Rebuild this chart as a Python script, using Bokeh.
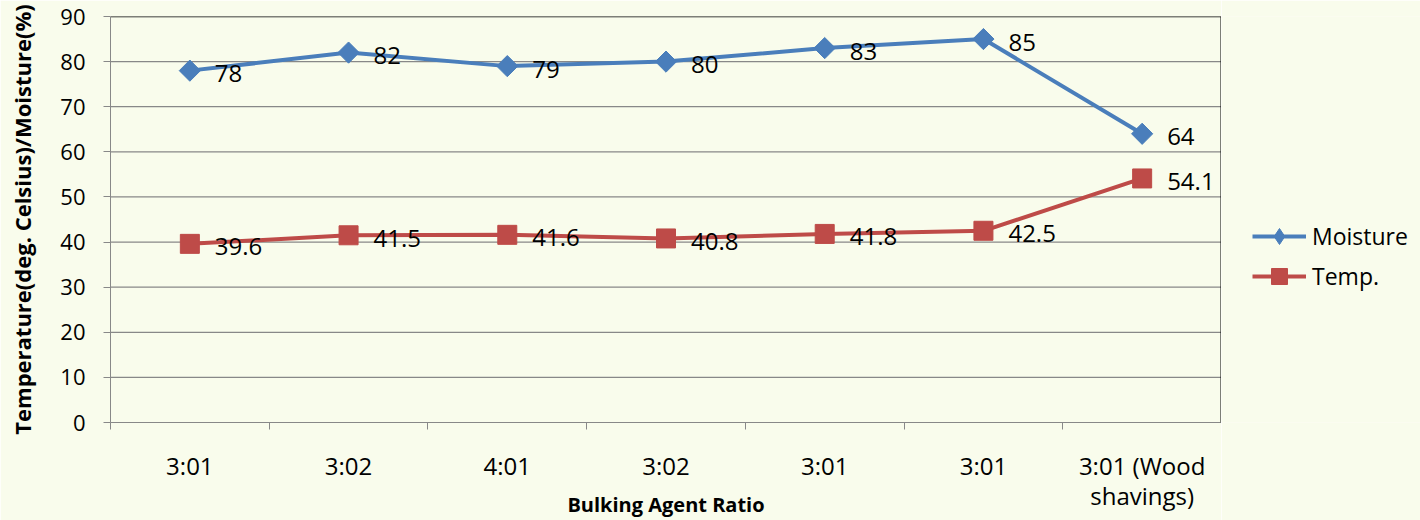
import math
from bokeh.plotting import figure
from bokeh.layouts import row
from bokeh.models import (ColumnDataSource, FixedTicker, Legend, LegendItem,
                          Range1d, Span)
from bokeh.core.properties import value
from bokeh.embed import file_html
from bokeh.resources import INLINE

# Data
categories = ["3:01", "3:02", "4:01", "3:02", "3:01", "3:01", "3:01 (Wood\nshavings)"]
moisture = [78, 82, 79, 80, 83, 85, 64]
temperature = [39.6, 41.5, 41.6, 40.8, 41.8, 42.5, 54.1]
y_ticks = [0, 10, 20, 30, 40, 50, 60, 70, 80, 90]

FONT = "Open Sans"
BG = "#F9FCEC"
BLUE = "#4A7EBB"
RED = "#BE4B48"
GRID = "#888888"

n = len(categories)
xs = [i + 0.5 for i in range(n)]

src = ColumnDataSource(dict(
    x=xs,
    moisture=moisture,
    temperature=temperature,
    m_lbl=[f"{v:g}" for v in moisture],
    t_lbl=[f"{v:g}" for v in temperature],
))

# ---- main chart -------------------------------------------------------------
p = figure(width=1221, height=520, output_backend="svg", toolbar_location=None,
           x_range=Range1d(0, n), y_range=Range1d(0, 90),
           min_border_left=110, min_border_right=0,
           min_border_top=16, min_border_bottom=98,
           background_fill_color=BG, border_fill_color=BG)
p.outline_line_color = None

# y axis
p.yaxis.ticker = FixedTicker(ticks=y_ticks)
p.yaxis.axis_line_color = GRID
p.yaxis.major_tick_line_color = GRID
p.yaxis.major_tick_out = 7
p.yaxis.major_tick_in = 0
p.yaxis.minor_tick_line_color = None
p.yaxis.major_label_text_font = FONT
p.yaxis.major_label_text_font_size = "22px"
p.yaxis.major_label_text_line_height = 1.0
p.yaxis.major_label_text_color = "#000000"
p.yaxis.major_label_standoff = 18
p.yaxis.axis_label = "Temperature(deg. Celsius)/Moisture(%)"
p.yaxis.axis_label_text_font = FONT
p.yaxis.axis_label_text_font_size = "22px"
p.yaxis.axis_label_text_font_style = "bold"
p.yaxis.axis_label_text_color = "#000000"
p.yaxis.axis_label_standoff = 20

# x axis: labels centred under each group, tick marks at group boundaries
p.xaxis.ticker = FixedTicker(ticks=xs, minor_ticks=list(range(n + 1)))
p.xaxis.major_label_overrides = {x: c for x, c in zip(xs, categories)}
p.xaxis.axis_line_color = GRID
p.xaxis.major_tick_line_color = None
p.xaxis.minor_tick_line_color = GRID
p.xaxis.minor_tick_out = 7
p.xaxis.minor_tick_in = 0
p.xaxis.major_tick_out = 7
p.xaxis.major_label_text_font = FONT
p.xaxis.major_label_text_font_size = "24px"
p.xaxis.major_label_text_line_height = 0.92
p.xaxis.major_label_text_color = "#000000"
p.xaxis.major_label_standoff = 19
p.xaxis.axis_label = "Bulking Agent Ratio"
p.xaxis.axis_label_text_font = FONT
p.xaxis.axis_label_text_font_size = "20px"
p.xaxis.axis_label_text_font_style = "bold"
p.xaxis.axis_label_text_color = "#000000"
p.xaxis.axis_label_standoff = -24

# horizontal grid lines; the top one doubles as the black border of the plot area
p.xgrid.grid_line_color = None
p.ygrid.grid_line_color = None
grid_src = ColumnDataSource(dict(
    x0=[0] * len(y_ticks), x1=[n] * len(y_ticks), y=y_ticks,
    color=[GRID] * (len(y_ticks) - 1) + ["#000000"],
    width=[1.2] * (len(y_ticks) - 1) + [1.5],
))
p.segment(x0="x0", y0="y", x1="x1", y1="y", source=grid_src,
          line_color="color", line_width="width")
p.add_layout(Span(location=n, dimension="height", line_color="#000000", line_width=2))

# series
m_line = p.line("x", "moisture", source=src, line_color=BLUE, line_width=4)
m_pts = p.scatter("x", "moisture", source=src, marker="square", angle=math.pi / 4,
                  size=15, fill_color=BLUE, line_color=BLUE)
t_line = p.line("x", "temperature", source=src, line_color=RED, line_width=4)
t_pts = p.scatter("x", "temperature", source=src, marker="square", size=19,
                  fill_color=RED, line_color=RED)

# value labels
for col, ycol in (("m_lbl", "moisture"), ("t_lbl", "temperature")):
    p.text("x", ycol, text=col, source=src, x_offset=25, y_offset=3,
           text_baseline="middle", text_align="left",
           text_font=value(FONT), text_font_size="24px", text_color="#000000")

# ---- legend panel -------------------------------------------------------------
leg = figure(width=199, height=520, output_backend="svg", toolbar_location=None,
             x_range=Range1d(0, 1), y_range=Range1d(0, 1),
             x_axis_location=None, y_axis_location=None,
             min_border=0, background_fill_color=BG, border_fill_color=BG)
leg.outline_line_color = None
leg.xgrid.grid_line_color = None
leg.ygrid.grid_line_color = None

# legend samples styled like the chart series (not drawn themselves)
lm_line = leg.line("x", "moisture", source=src, line_color=BLUE, line_width=4, visible=False)
lm_pts = leg.scatter("x", "moisture", source=src, marker="diamond",
                     size=20, fill_color=BLUE, line_color=BLUE, visible=False)
lt_line = leg.line("x", "temperature", source=src, line_color=RED, line_width=4, visible=False)
lt_pts = leg.scatter("x", "temperature", source=src, marker="square", size=19,
                     fill_color=RED, line_color=RED, visible=False)

legend = Legend(items=[LegendItem(label="Moisture", renderers=[lm_line, lm_pts]),
                       LegendItem(label="Temp.", renderers=[lt_line, lt_pts])],
                location=(31, 126), orientation="vertical", click_policy="none",
                glyph_width=54, glyph_height=40, label_standoff=6,
                spacing=0, padding=0, margin=0,
                label_text_font=FONT, label_text_font_size="23px",
                label_text_color="#000000",
                background_fill_alpha=0, border_line_color=None)
leg.add_layout(legend, "center")

layout = row(p, leg, spacing=0)
open("out.html", "w").write(file_html(layout, INLINE))
